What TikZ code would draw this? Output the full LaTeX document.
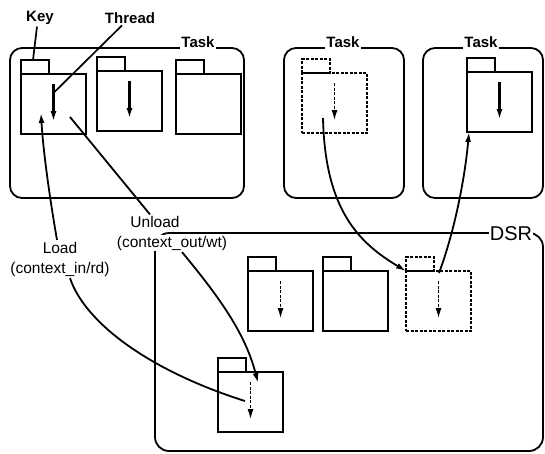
\documentclass[tikz,border=0pt]{standalone}
\usepackage{fontspec}
\setmainfont{Liberation Sans}
\usetikzlibrary{arrows.meta}
\tikzset{
  folder/.style={draw, rectangle, anchor=north west, inner sep=0pt, outer sep=0pt,
    minimum width=65pt, minimum height=60pt},
  ghost/.style={dash pattern=on 3pt off 1.5pt},
  ghostthread/.style={ghost, line width=1.9pt},
  threadarrow/.style={line width=2.2pt, -{Latex[length=11pt,width=6pt]}},
  taskbox/.style={rounded corners=12pt, line width=1.8pt},
  boxlabel/.style={fill=white, inner sep=1.5pt, font=\bfseries\fontsize{15}{17}\selectfont},
  calllabel/.style={inner sep=1pt, font=\bfseries\fontsize{15}{17}\selectfont},
  flowlabel/.style={fill=white, inner sep=1pt, align=center, font=\fontsize{15.5}{20}\selectfont},
  flow/.style={line width=1.8pt},
  flowarrow/.style={flow, -{Latex[length=10pt,width=6pt]}}
}

\begin{document}
\begin{tikzpicture}[x=1pt, y=-1pt, line width=1.7pt]
  \useasboundingbox (0,0) rectangle (545,453);

  % Task boxes and DSR
  \draw[taskbox] (10,48) rectangle (244,198);
  \draw[taskbox] (284,48) rectangle (404,198);
  \draw[taskbox] (423,48) rectangle (543,198);
  \draw[taskbox, rounded corners=14pt] (155,233) rectangle (543,451);

  \node[boxlabel, anchor=south] (task1) at (198,50) {Task};
  \node[boxlabel, anchor=south] (task2) at (343,50) {Task};
  \node[boxlabel, anchor=south] (task3) at (481,50) {Task};
  \node[flowlabel, font=\fontsize{20}{22}\selectfont] (dsr) at (511,234) {DSR};

  % Folders (body node plus key tab)
  \foreach \name/\x/\y/\kind in {
  f1/21/74/solid,
  f2/97/71/solid,
  f3/176/74/solid,
  g1/302/73/ghost,
  h1/467/72/solid,
  dA/248/271/solid,
  dB/323/271/solid,
  dC/406/271/ghost,
  dD/218/372/solid} {
    \node[folder, \kind] (\name) at (\x,\y) {};
    \draw[\kind] (\name.north west) rectangle ++(28,-14);
  }

  % Threads inside folders
  \foreach \name/\kind in {f1/solid, f2/solid, h1/solid,
    g1/ghostthread, dA/ghostthread, dC/ghostthread, dD/ghostthread} {
    \draw[threadarrow, \kind] ([yshift=-10pt]\name.north) -- ([yshift=12pt]\name.south);
  }

  % Callouts
  \node[calllabel] (key) at (40,18) {Key};
  \node[calllabel] (thread) at (130,18) {Thread};
  \draw ([xshift=-3pt]key.south) -- ([xshift=12pt,yshift=14pt]f1.north west);
  \draw ([xshift=-8pt]thread.south) -- ([xshift=1pt,yshift=-18pt]f1.north);

  % Load / Unload
  \node[flowlabel] (load) at (60,259) {Load\\(context\_in/rd)};
  \node[flowlabel] (unload) at (155,222) {Unload};
  \node[flowlabel] (unloadsub) at (172,243) {(context\_out/wt)};

  \coordinate (f1-in) at ([xshift=20pt,yshift=-39pt]f1.north west);
  \coordinate (f1-out) at ([xshift=49pt,yshift=-43pt]f1.north west);
  \coordinate (dD-in) at ([xshift=40pt,yshift=-11pt]dD.north west);
  \coordinate (dD-out) at ([xshift=27pt,yshift=-29pt]dD.north west);
  \coordinate (g1-out) at ([xshift=21pt,yshift=-45pt]g1.north west);
  \coordinate (dC-out) at ([xshift=33pt,yshift=-2pt]dC.north west);
  \coordinate (h1-in) at ([xshift=2pt]h1.south west);

  \draw[flow] (dD-out) .. controls +(-95,-30) and +(15,45) .. ([xshift=10pt]load.south);
  \draw[flowarrow] ([xshift=-3pt]load.north) .. controls +(-7,-40) and +(2,37) .. (f1-in);
  \draw[flow] (f1-out) -- ([xshift=-5pt]unload.north);
  \draw[flowarrow] ([xshift=10pt]unloadsub.south) .. controls +(33,40) and +(-13,-52) .. (dD-in);

  % Moves between tasks and DSR
  \draw[flowarrow] (g1-out) .. controls +(2,92) and +(-47,-28) .. (dC.north west);
  \draw[flowarrow] (dC-out) .. controls +(16,-43) and +(-4,45) .. (h1-in);
\end{tikzpicture}
\end{document}
